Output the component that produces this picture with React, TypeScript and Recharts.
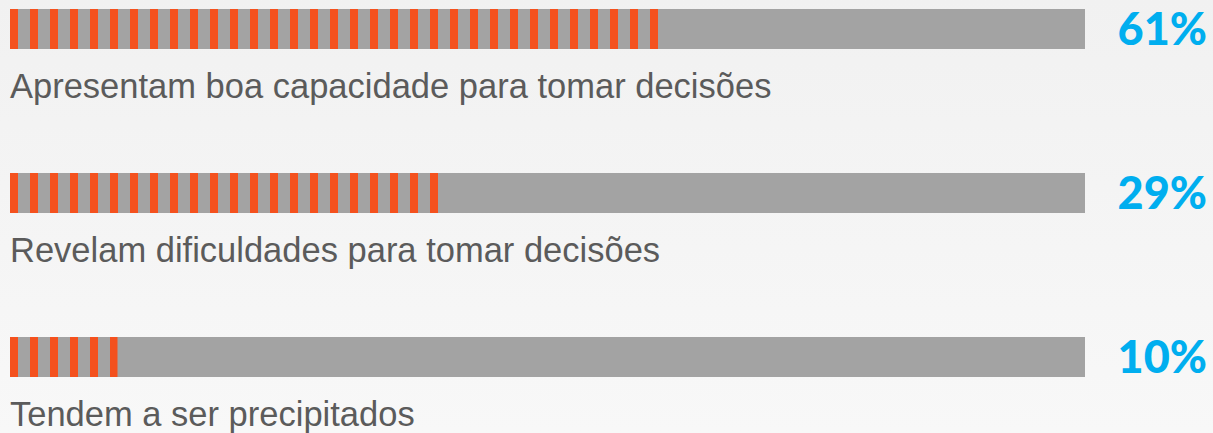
import React from 'react';
import { BarChart, Bar, XAxis, YAxis, LabelList } from 'recharts';

const categories = [
  'Apresentam boa capacidade para tomar decisões',
  'Revelam dificuldades para tomar decisões',
  'Tendem a ser precipitados',
];
// Displayed percentages
const percentLabels = ['61%', '29%', '10%'];
// Filled length of each striped bar (share of the full track)
const fillValues = [61, 40.5, 10];

const data = categories.map((name, i) => ({
  name,
  value: fillValues[i],
  pct: percentLabels[i],
}));

const CHART_W = 1213;
const CHART_H = 501;
const MARGIN = { top: 9, right: 128, bottom: 0, left: 10 };
const BAR_H = 40;

const StripeShape = (props: any) => {
  const { x, y, width } = props;
  return <rect x={x} y={y} width={Math.max(0, width)} height={BAR_H} fill="url(#stripes)" />;
};

const TrackShape = (props: any) => {
  const { x, y, width } = props;
  return <rect x={x} y={y} width={width} height={BAR_H} fill="#a3a3a3" />;
};

const PctLabel = (props: any) => {
  const { y, index } = props;
  return (
    <text
      x={CHART_W - 6}
      y={y + 36}
      textAnchor="end"
      fill="#00aeef"
      fontFamily="Lato, 'Open Sans', sans-serif"
      fontWeight={900}
      fontSize={45}
    >
      {percentLabels[index]}
    </text>
  );
};

const NameLabel = (props: any) => {
  const { y, index } = props;
  return (
    <text
      x={MARGIN.left}
      y={y + 89}
      textAnchor="start"
      fill="#5b5b5b"
      fontFamily="'Liberation Sans', Arial, Helvetica, sans-serif"
      fontSize={34.5}
    >
      {categories[index]}
    </text>
  );
};

export default function App() {
  return (
    <div
      style={{
        position: 'absolute',
        left: 0,
        top: 0,
        width: CHART_W,
        height: 433,
        overflow: 'hidden',
        background: 'linear-gradient(#f1f1f1, #f8f8f8)',
      }}
    >
      <BarChart
        width={CHART_W}
        height={CHART_H}
        data={data}
        layout="vertical"
        margin={MARGIN}
        barGap={0}
        barCategoryGap={0}
      >
        <defs>
          <pattern id="stripes" patternUnits="userSpaceOnUse" x={10} y={0} width={20} height={10}>
            <rect x={0} y={0} width={8} height={10} fill="#f4511e" />
          </pattern>
        </defs>
        <XAxis type="number" domain={[0, 100]} hide />
        <YAxis type="category" dataKey="name" hide />
        <Bar
          dataKey="value"
          shape={StripeShape}
          background={TrackShape}
          isAnimationActive={false}
        >
          <LabelList dataKey="pct" content={PctLabel} />
          <LabelList dataKey="name" content={NameLabel} />
        </Bar>
      </BarChart>
    </div>
  );
}
